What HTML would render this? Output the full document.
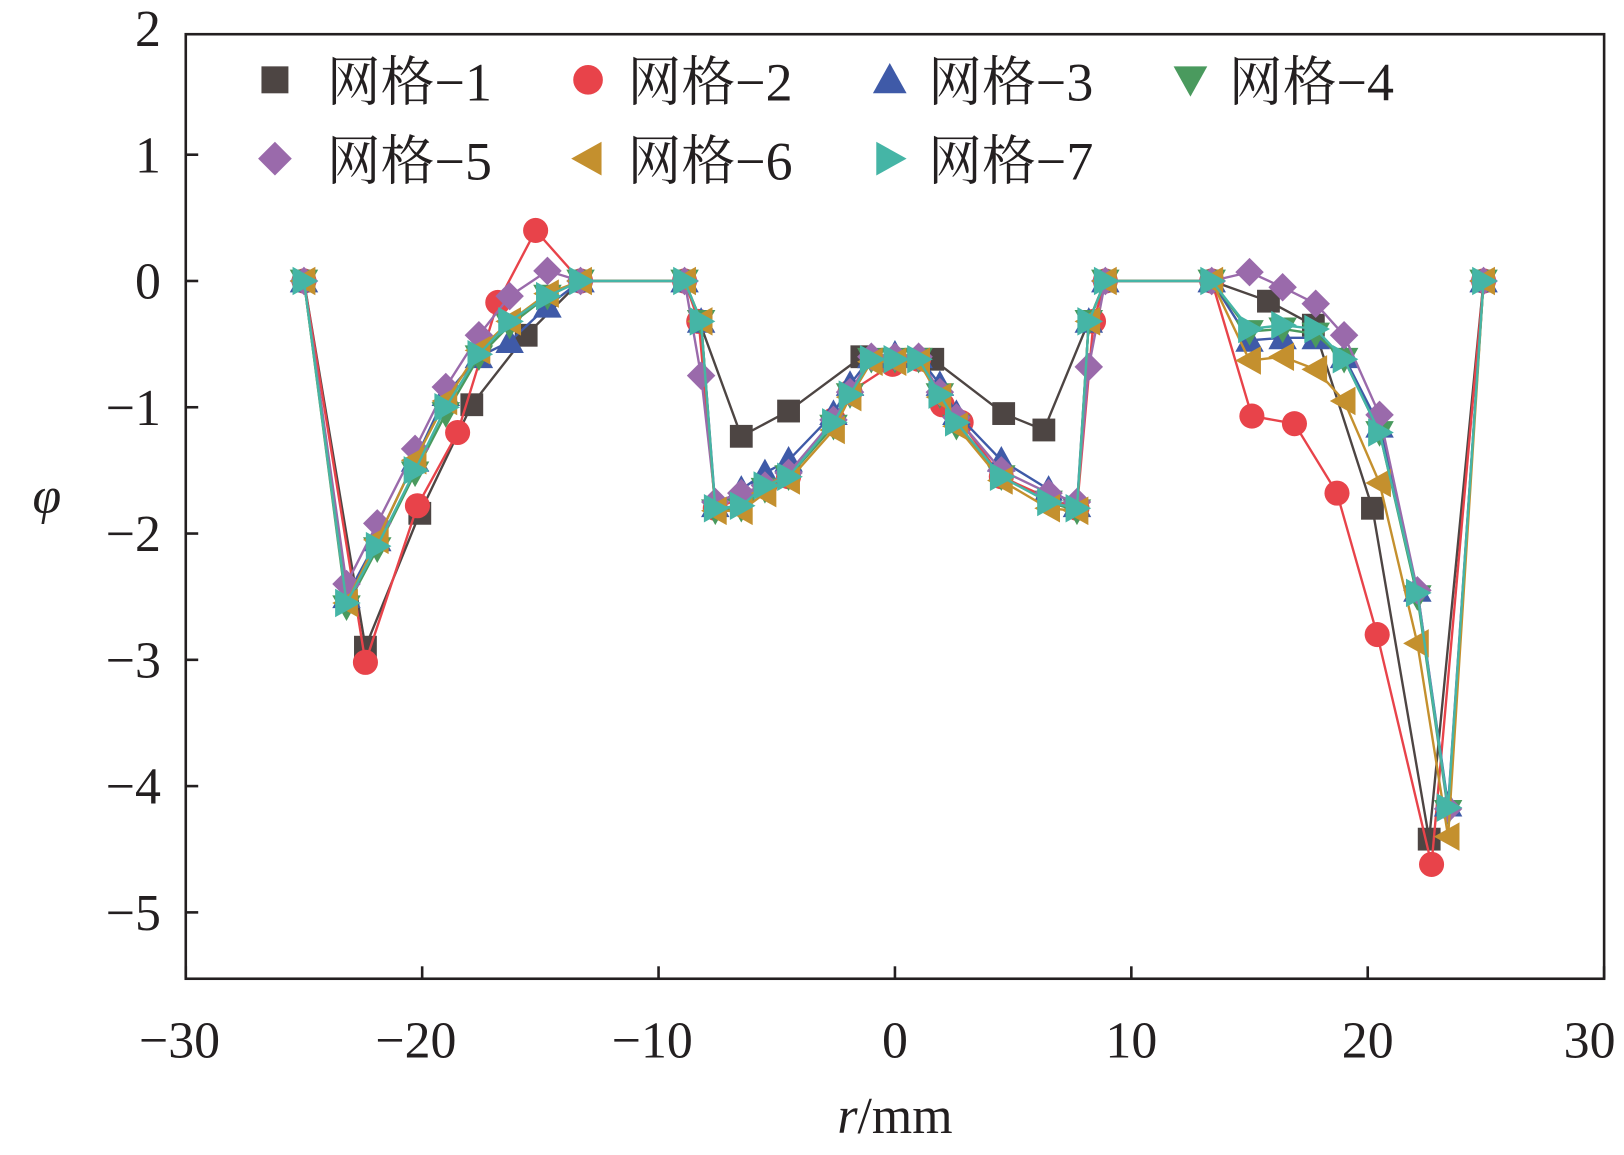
<!DOCTYPE html>
<html><head><meta charset="utf-8"><style>
body{margin:0;background:#fff}
svg{display:block}
text{font-family:"Liberation Serif","Noto Serif CJK SC",serif;fill:#231f20}
</style></head><body>
<svg id="chart" width="1624" height="1155" viewBox="0 0 1566 1114" xmlns="http://www.w3.org/2000/svg">
<g id="marks"></g>
<g id="axes"></g>
<g id="legend"></g>
</svg>
<script>
const xTicks=[-30,-20,-10,0,10,20,30];
const yTicks=[2,1,0,-1,-2,-3,-4,-5];
const seriesNames=["网格−1","网格−2","网格−3","网格−4","网格−5","网格−6","网格−7"];
const x1=[-25,-22.4,-20.1,-17.9,-15.6,-13.3,-8.9,-6.5,-4.5,-1.4,1.6,4.6,6.3,8.9,13.4,15.8,17.7,20.2,22.6,24.9];
const y1=[0,-2.9,-1.84,-0.98,-0.43,0,0,-1.23,-1.03,-0.6,-0.62,-1.05,-1.18,0,0,-0.16,-0.35,-1.8,-4.42,0];
const x2=[-25,-22.4,-20.2,-18.5,-16.8,-15.2,-13.3,-8.9,-8.3,-7.6,-6.5,-5.5,-4.5,-2.6,-1.9,-0.1,1.0,2.0,2.8,4.5,6.5,7.7,8.4,8.9,13.4,15.1,16.9,18.7,20.4,22.7,24.9];
const y2=[0,-3.02,-1.78,-1.2,-0.17,0.4,0,0,-0.32,-1.8,-1.72,-1.62,-1.55,-1.1,-0.88,-0.66,-0.62,-0.98,-1.12,-1.55,-1.72,-1.8,-0.32,0,0,-1.07,-1.13,-1.68,-2.8,-4.62,0];
const xs=[-25,-23.2,-21.9,-20.3,-19,-17.6,-16.3,-14.7,-13.3,-8.9,-8.2,-7.6,-6.5,-5.5,-4.5,-2.6,-1.9,-1.0,0,1.0,1.9,2.6,4.5,6.5,7.7,8.2,8.9,13.4,15,16.4,17.8,19,20.5,22.1,23.4,24.9];
const y3=[0,-2.5,-2.05,-1.42,-0.9,-0.6,-0.48,-0.2,0,0,-0.32,-1.78,-1.65,-1.52,-1.42,-1.05,-0.82,-0.6,-0.58,-0.6,-0.82,-1.05,-1.42,-1.65,-1.78,-0.32,0,0,-0.47,-0.45,-0.45,-0.6,-1.15,-2.45,-4.15,0];
const y4=[0,-2.58,-2.12,-1.52,-1.05,-0.6,-0.35,-0.12,0,0,-0.32,-1.82,-1.8,-1.65,-1.55,-1.15,-0.9,-0.62,-0.62,-0.62,-0.9,-1.15,-1.55,-1.75,-1.82,-0.32,0,0,-0.4,-0.38,-0.42,-0.62,-1.2,-2.5,-4.2,0];
const y5=[0,-2.4,-1.92,-1.33,-0.84,-0.43,-0.12,0.08,0,0,-0.75,-1.75,-1.68,-1.62,-1.52,-1.1,-0.88,-0.6,-0.6,-0.6,-0.88,-1.08,-1.5,-1.68,-1.75,-0.68,0,0,0.07,-0.05,-0.18,-0.43,-1.06,-2.45,-4.18,0];
const y6=[0,-2.55,-2.05,-1.42,-0.95,-0.55,-0.32,-0.1,0,0,-0.32,-1.82,-1.82,-1.68,-1.58,-1.18,-0.92,-0.64,-0.64,-0.64,-0.92,-1.15,-1.58,-1.8,-1.82,-0.32,0,0,-0.63,-0.6,-0.7,-0.95,-1.6,-2.87,-4.4,0];
const y7=[0,-2.55,-2.1,-1.5,-1.0,-0.58,-0.32,-0.12,0,0,-0.32,-1.8,-1.78,-1.62,-1.55,-1.12,-0.9,-0.62,-0.62,-0.62,-0.9,-1.12,-1.55,-1.75,-1.8,-0.32,0,0,-0.38,-0.35,-0.38,-0.62,-1.2,-2.47,-4.17,0];
const colors=["#4d4543","#e8434a","#3f5aa8","#4a9a5e","#9a6aab","#c4902e","#45b5a6"];
const shapes=["sq","ci","tu","td","di","tl","tr"];
const allX=[x1,x2,xs,xs,xs,xs,xs], allY=[y1,y2,y3,y4,y5,y6,y7];
const L=179,R=1547,T=33,B=944;
const X=v=>L+(v+30)/60*(R-L);
const Y=v=>271-v*121.8;
const NS="http://www.w3.org/2000/svg";
function mk(tag,attrs,parent){const e=document.createElementNS(NS,tag);for(const k in attrs)e.setAttribute(k,attrs[k]);parent.appendChild(e);return e;}
function marker(shape,cx,cy,s,col,parent){
  let e;
  if(shape==="sq")e=mk("rect",{x:cx-s,y:cy-s,width:2*s,height:2*s,fill:col},parent);
  else if(shape==="ci")e=mk("circle",{cx:cx,cy:cy,r:s*1.1,fill:col},parent);
  else{let p;const a=s*1.25;
    if(shape==="tu")p=[[cx,cy-a],[cx+a,cy+a*0.8],[cx-a,cy+a*0.8]];
    if(shape==="td")p=[[cx,cy+a],[cx+a,cy-a*0.8],[cx-a,cy-a*0.8]];
    if(shape==="tl")p=[[cx-a,cy],[cx+a*0.8,cy-a],[cx+a*0.8,cy+a]];
    if(shape==="tr")p=[[cx+a,cy],[cx-a*0.8,cy-a],[cx-a*0.8,cy+a]];
    if(shape==="di")p=[[cx,cy-a],[cx+a,cy],[cx,cy+a],[cx-a,cy]];
    e=mk("polygon",{points:p.map(q=>q.join(",")).join(" "),fill:col},parent);}
  return e;
}
const g=document.getElementById("marks");
for(let i=0;i<7;i++){
  const sg=mk("g",{},g);
  
  
  const pts=allX[i].map((v,j)=>X(v)+","+Y(allY[i][j])).join(" ");
  const pl=mk("polyline",{points:pts,fill:"none",stroke:colors[i],"stroke-width":2.3},sg);
  
  
  allX[i].forEach((v,j)=>{
    const m=marker(shapes[i],X(v),Y(allY[i][j]),11,colors[i],sg);
    
    
  });
}
const ax=document.getElementById("axes");
const fr=mk("rect",{x:L,y:T,width:R-L,height:B-T,fill:"none",stroke:"#231f20","stroke-width":2.5},ax);


xTicks.forEach(v=>{
  mk("line",{x1:X(v),x2:X(v),y1:B,y2:B-12,stroke:"#231f20","stroke-width":2.5},ax);
  const dx=v===30?-14:(v<0?-6:0);
  const t=mk("text",{x:X(v)+dx,y:1020,"text-anchor":"middle","font-size":50},ax);
  t.textContent=(v<0?"−":"")+Math.abs(v);
  
  
});
yTicks.forEach(v=>{
  if(Y(v)>T+2) mk("line",{x1:L,x2:L+12,y1:Y(v),y2:Y(v),stroke:"#231f20","stroke-width":2.5},ax);
  const t=mk("text",{x:155,y:Y(v)+17,"text-anchor":"end","font-size":50},ax);
  t.textContent=(v<0?"−":"")+Math.abs(v);
  
  
});
const xt=mk("text",{x:863,y:1093,"text-anchor":"middle","font-size":50},ax);
xt.innerHTML='<tspan font-style="italic">r</tspan>/mm';


const yt=mk("text",{x:45,y:495,"text-anchor":"middle","font-size":50,"font-style":"italic"},ax);
yt.textContent="φ";


const lg=document.getElementById("legend");
const lx=[265,567,858,1148],ly=[77,153],tx=[315,605,895,1185];
for(let i=0;i<7;i++){
  const cx=lx[i%4],cy=ly[Math.floor(i/4)];
  const eg=mk("g",{},lg);
  
  
  marker(shapes[i],cx,cy,13,colors[i],eg);
  const t=mk("text",{x:tx[i%4],y:cy+20,"font-size":52},eg);
  t.textContent=seriesNames[i];
}
</script>
</body></html>
